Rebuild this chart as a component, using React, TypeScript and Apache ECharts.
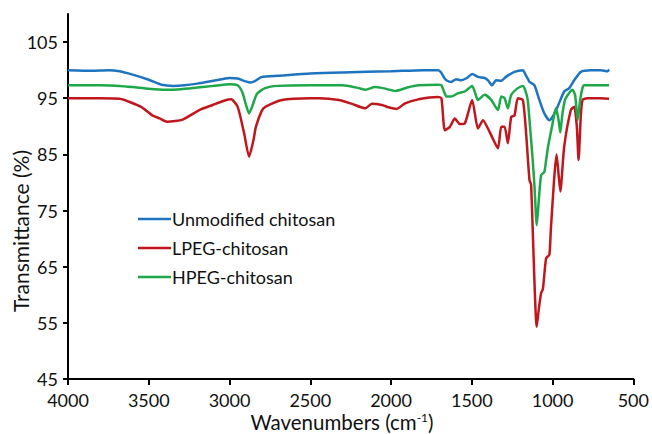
import React, { useEffect, useRef } from "react";
import * as echarts from "echarts";

const seriesNames = ["Unmodified chitosan", "LPEG-chitosan", "HPEG-chitosan"];
const seriesColors = ["#1f74c0", "#c0171d", "#1ea84a"];

const yTickValues = [45, 55, 65, 75, 85, 95, 105];
const xTickValues = [4000, 3500, 3000, 2500, 2000, 1500, 1000, 500];

// [wavenumber, transmittance]
const unmodified: number[][] = [
  [4000, 100.0], [3850, 99.9], [3750, 100.0], [3680, 99.8], [3600, 99.2], [3500, 98.3],
  [3420, 97.4], [3350, 97.2], [3280, 97.3], [3200, 97.6], [3100, 98.1], [3000, 98.6],
  [2950, 98.5], [2900, 98.0], [2870, 97.8], [2840, 98.1], [2800, 98.8], [2700, 99.0],
  [2500, 99.4], [2300, 99.6], [2000, 99.8], [1800, 100.0], [1708, 100.0], [1690, 99.6],
  [1670, 98.6], [1657, 98.2], [1628, 97.9], [1597, 98.4], [1566, 98.2], [1530, 98.6],
  [1498, 99.3], [1462, 98.8], [1420, 98.6], [1400, 98.2], [1375, 97.3], [1350, 98.2],
  [1320, 98.1], [1289, 98.8], [1236, 99.7], [1184, 100.0], [1166, 99.1], [1150, 98.3],
  [1143, 97.9], [1112, 97.3], [1082, 94.7], [1051, 92.3], [1020, 91.1], [1000, 91.7],
  [969, 93.5], [928, 96.2], [897, 96.8], [866, 98.2], [825, 99.7], [764, 100.0],
  [700, 100.0], [660, 99.8], [650, 100.1],
];

const lpeg: number[][] = [
  [4000, 95.0], [3800, 95.0], [3680, 94.9], [3550, 93.5], [3480, 92.0], [3433, 91.4],
  [3384, 90.8], [3290, 91.2], [3187, 92.9], [3105, 93.8], [3030, 94.6], [2990, 94.8],
  [2950, 93.5], [2910, 88.8], [2879, 84.6], [2850, 87.8], [2837, 89.9], [2800, 92.8],
  [2776, 93.5], [2675, 94.7], [2500, 95.0], [2447, 95.0], [2324, 94.7], [2242, 94.0],
  [2160, 93.2], [2119, 94.0], [2057, 93.8], [2016, 93.4], [1965, 93.1], [1913, 94.1],
  [1831, 94.8], [1708, 95.2], [1688, 95.0], [1667, 89.3], [1636, 89.9], [1605, 91.4],
  [1574, 90.4], [1544, 90.5], [1498, 94.7], [1462, 89.6], [1431, 91.1], [1390, 89.0],
  [1338, 86.1], [1318, 89.9], [1297, 89.9], [1277, 87.0], [1256, 91.7], [1236, 91.9],
  [1215, 95.0], [1184, 94.7], [1164, 88.8], [1143, 80.4], [1133, 79.6], [1098, 54.3],
  [1085, 57.5], [1071, 60.3], [1060, 61.0], [1040, 66.5], [1020, 67.1], [1010, 72.0],
  [975, 85.0], [952, 78.4], [928, 86.4], [887, 92.9], [866, 93.5], [850, 90.0],
  [839, 84.0], [825, 92.0], [814, 94.7], [784, 95.0], [700, 95.0], [650, 94.9],
];

const hpeg: number[][] = [
  [4000, 97.3], [3800, 97.3], [3680, 97.2], [3600, 97.0], [3500, 96.7], [3400, 96.5],
  [3300, 96.6], [3200, 96.9], [3100, 97.2], [3000, 97.5], [2950, 97.3], [2920, 96.0],
  [2900, 94.0], [2879, 92.3], [2860, 93.5], [2830, 95.8], [2780, 96.8], [2700, 97.2],
  [2500, 97.3], [2300, 97.3], [2200, 96.8], [2158, 96.5], [2100, 97.0], [2050, 96.8],
  [1972, 96.3], [1900, 96.9], [1830, 97.3], [1708, 97.4], [1688, 97.3], [1670, 96.0],
  [1657, 95.3], [1628, 95.3], [1585, 95.9], [1544, 96.2], [1498, 97.2], [1480, 96.0],
  [1462, 94.7], [1420, 95.6], [1380, 94.7], [1338, 92.9], [1318, 95.3], [1297, 95.0],
  [1277, 93.2], [1256, 95.6], [1215, 96.8], [1184, 97.2], [1170, 96.5], [1154, 94.7],
  [1133, 87.6], [1123, 84.0], [1112, 79.3], [1098, 72.4], [1085, 77.0], [1071, 81.3],
  [1051, 81.9], [1040, 84.0], [1030, 86.0], [1020, 87.6], [1000, 90.5], [980, 93.2],
  [965, 91.5], [952, 88.9], [940, 92.0], [923, 94.7], [895, 96.0], [876, 96.5],
  [860, 95.5], [845, 91.1], [830, 94.5], [815, 96.8], [804, 97.3], [700, 97.3],
  [650, 97.3],
];

const seriesData = [unmodified, lpeg, hpeg];

const FONT = "Lato, 'Open Sans', sans-serif";

export default function App() {
  const ref = useRef<HTMLDivElement>(null);

  useEffect(() => {
    if (!ref.current) return;
    const chart = echarts.init(ref.current, null, { renderer: "svg" });
    chart.setOption({
      animation: false,
      backgroundColor: "#ffffff",
      textStyle: { fontFamily: FONT },
      grid: { left: 68, right: 16, top: 14, bottom: 55, containLabel: false },
      legend: {
        orient: "vertical",
        left: 133,
        top: 205,
        icon: "rect",
        itemWidth: 33,
        itemHeight: 2.5,
        itemGap: 11,
        data: seriesNames,
        textStyle: { fontFamily: FONT, fontSize: 18, color: "#111", padding: [0, 0, 0, -4] },
      },
      xAxis: {
        type: "value",
        inverse: true,
        min: 500,
        max: 4000,
        interval: 500,
        axisLine: { show: true, lineStyle: { color: "#000", width: 2 } },
        axisTick: { show: true, length: 6, lineStyle: { color: "#000", width: 2 }, customValues: xTickValues },
        axisLabel: {
          fontFamily: FONT,
          fontSize: 18,
          color: "#111",
          margin: 12,
          customValues: xTickValues,
          formatter: (v: number) => String(v),
        },
        splitLine: { show: false },
      },
      yAxis: {
        type: "value",
        min: 45,
        max: 110,
        axisLine: { show: true, onZero: false, lineStyle: { color: "#000", width: 2 } },
        axisTick: { show: true, length: 5, lineStyle: { color: "#000", width: 2 }, customValues: yTickValues },
        axisLabel: {
          fontFamily: FONT,
          fontSize: 18,
          color: "#111",
          margin: 10,
          customValues: yTickValues,
          formatter: (v: number) => String(v),
        },
        splitLine: { show: false },
      },
      graphic: [
        {
          type: "text",
          x: 20,
          y: 231,
          rotation: Math.PI / 2,
          style: {
            text: "Transmittance (%)",
            fontFamily: FONT,
            fontSize: 21,
            fill: "#111",
            align: "center",
            verticalAlign: "middle",
          },
        },
        {
          type: "text",
          x: 342,
          y: 422,
          style: {
            text: "Wavenumbers (cm{sup|-1})",
            fontFamily: FONT,
            fontSize: 20.5,
            fill: "#111",
            align: "center",
            verticalAlign: "middle",
            rich: {
              sup: { fontFamily: FONT, fontSize: 12, fill: "#111", padding: [0, 0, 9, 0] },
            },
          },
        },
      ],
      series: seriesData.map((d, i) => ({
        name: seriesNames[i],
        type: "line",
        data: d,
        symbol: "none",
        smooth: 0.2,
        color: seriesColors[i],
        lineStyle: { color: seriesColors[i], width: 2.5 },
      })),
    });
    return () => chart.dispose();
  }, []);

  return <div ref={ref} style={{ width: 652, height: 434, position: "absolute", left: 0, top: 0 }} />;
}
